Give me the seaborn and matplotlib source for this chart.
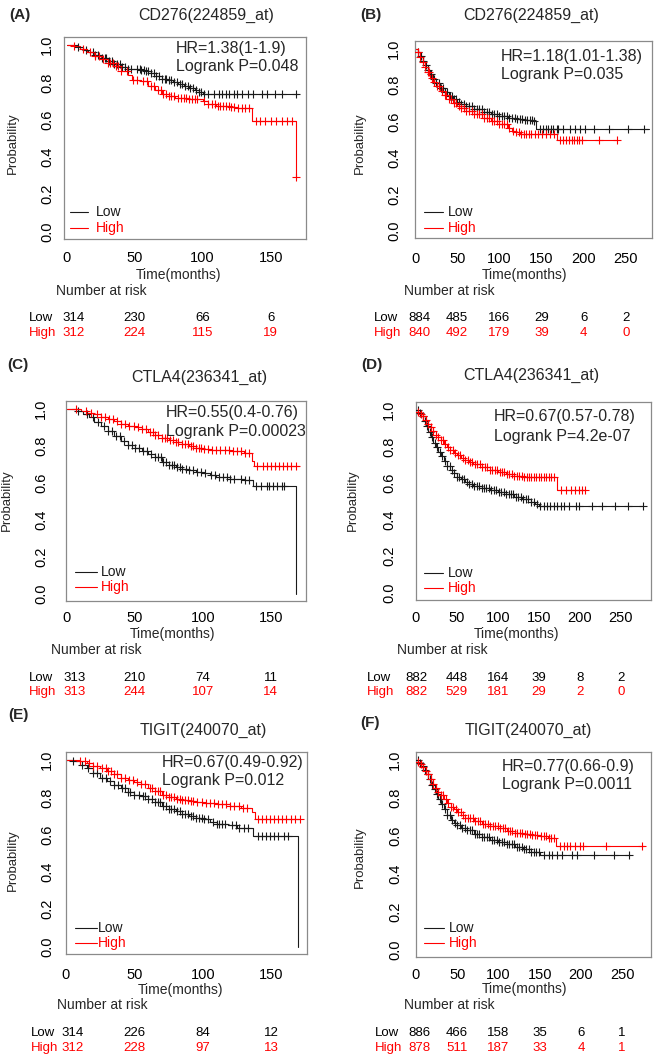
import numpy as np
import pandas as pd
import matplotlib
matplotlib.use("Agg")
import matplotlib.pyplot as plt
import seaborn as sns
from matplotlib import transforms
from matplotlib.lines import Line2D

sns.set_theme(style="white")
plt.rcParams["font.family"] = ["Liberation Sans", "DejaVu Sans"]

W, H = 661, 1057

# ---------------- data ----------------
titles = ["CD276(224859_at)", "CD276(224859_at)", "CTLA4(236341_at)",
          "CTLA4(236341_at)", "TIGIT(240070_at)", "TIGIT(240070_at)"]
letters = ["(A)", "(B)", "(C)", "(D)", "(E)", "(F)"]
hr_texts = ["HR=1.38(1-1.9)", "HR=1.18(1.01-1.38)", "HR=0.55(0.4-0.76)",
            "HR=0.67(0.57-0.78)", "HR=0.67(0.49-0.92)", "HR=0.77(0.66-0.9)"]
p_texts = ["Logrank P=0.048", "Logrank P=0.035", "Logrank P=0.00023",
           "Logrank P=4.2e-07", "Logrank P=0.012", "Logrank P=0.0011"]

ticks_short = [0, 50, 100, 150]
ticks_long = [0, 50, 100, 150, 200, 250]

# Panel A
A_low_t = [0, 8, 12, 16, 20, 25, 30, 35, 40, 45, 55, 58, 62, 66, 70, 74, 78, 82, 86, 90, 94, 97, 100, 170]
A_low_s = [1.0, 0.99, 0.975, 0.96, 0.945, 0.93, 0.912, 0.896, 0.883, 0.872, 0.866, 0.86, 0.85, 0.835, 0.82, 0.81, 0.80, 0.79, 0.78, 0.77, 0.758, 0.75, 0.739, 0.739]
A_high_t = [0, 5, 10, 15, 20, 25, 30, 35, 40, 45, 48, 55, 60, 65, 70, 75, 80, 90, 100, 104, 110, 120, 125, 136.5, 168.5, 169]
A_high_s = [1.0, 0.995, 0.98, 0.96, 0.94, 0.925, 0.905, 0.885, 0.86, 0.84, 0.815, 0.805, 0.78, 0.76, 0.74, 0.728, 0.718, 0.708, 0.70, 0.685, 0.675, 0.67, 0.66, 0.594, 0.295, 0.295]
A_low_c = [8, 14, 19, 21, 23, 26, 28, 29, 31, 33, 35, 37, 39, 41, 43, 45, 47, 52, 54, 55, 57, 58, 60, 62, 64, 66, 68, 70,
           72, 73, 75, 77, 79, 81, 83, 85, 87, 89, 91, 93, 95, 97, 99, 101, 104, 108, 112, 114, 117, 119, 123,
           125, 129, 133, 137, 144, 147, 153, 158, 169]
A_high_c = [5, 12, 17, 21, 24, 27, 30, 32, 34, 36, 38, 40, 44, 49, 52, 56, 59, 62, 64, 67, 69, 71, 73, 75, 77, 79,
            82, 84, 86, 88, 90, 92, 94, 96, 101, 104, 107, 109, 111, 113, 115, 117, 119, 121, 123, 126, 129,
            131, 134, 139, 142, 146, 150, 154, 158, 162, 166, 169]

# Panel B
B_low_t = [0, 3, 6, 9, 12, 15, 18, 21, 25, 30, 35, 40, 45, 50, 55, 60, 70, 80, 90, 100, 110, 120, 130, 140, 143, 277]
B_low_s = [1.0, 0.985, 0.96, 0.935, 0.91, 0.885, 0.86, 0.835, 0.81, 0.785, 0.762, 0.742, 0.725, 0.71, 0.698, 0.688, 0.668, 0.652, 0.64, 0.63, 0.62, 0.613, 0.608, 0.604, 0.557, 0.557]
B_high_t = [0, 3, 6, 9, 12, 15, 18, 21, 25, 30, 35, 40, 45, 50, 55, 60, 70, 80, 90, 100, 110, 115, 120, 125, 168, 240]
B_high_s = [1.0, 0.98, 0.955, 0.93, 0.9, 0.87, 0.84, 0.815, 0.795, 0.768, 0.745, 0.722, 0.70, 0.685, 0.672, 0.66, 0.64, 0.622, 0.605, 0.585, 0.565, 0.548, 0.54, 0.53, 0.50, 0.50]
B_low_c = [4, 7, 10, 13, 16, 19, 22, 25, 28, 31, 33, 36, 38, 41, 44, 46, 49, 52, 55, 58, 61, 64, 67, 70, 73, 76,
           79, 82, 85, 88, 91, 94, 97, 100, 103, 106, 109, 112, 115, 118, 121, 124, 127, 130, 133, 136, 139,
           141, 148, 152, 155, 158, 161, 164, 168, 170, 176, 184, 190, 196, 202, 212, 230, 253, 271]
B_high_c = [3, 6, 9, 12, 15, 17, 20, 23, 26, 29, 32, 35, 37, 40, 43, 46, 49, 52, 55, 58, 61, 64, 67, 70, 73, 76,
            79, 82, 85, 88, 91, 94, 97, 100, 103, 106, 109, 112, 116, 120, 123, 126, 129, 132, 135, 138, 142,
            146, 150, 155, 160, 165, 172, 176, 179, 182, 186, 189, 192, 195, 198, 218, 240]

# Panel C
C_low_t = [0, 8, 12, 16, 20, 25, 30, 35, 40, 45, 50, 55, 60, 65, 70, 75, 80, 85, 90, 95, 100, 105, 110, 120, 130, 137, 169]
C_low_s = [1.0, 0.99, 0.975, 0.955, 0.93, 0.905, 0.88, 0.855, 0.828, 0.805, 0.786, 0.772, 0.758, 0.74, 0.715, 0.697, 0.684, 0.674, 0.668, 0.66, 0.652, 0.642, 0.63, 0.622, 0.615, 0.582, 0.0]
C_high_t = [0, 10, 15, 20, 25, 30, 35, 40, 45, 50, 55, 60, 65, 70, 75, 80, 85, 90, 95, 100, 105, 110, 120, 130, 136, 138, 171]
C_high_s = [1.0, 0.99, 0.98, 0.97, 0.958, 0.945, 0.935, 0.92, 0.908, 0.9, 0.89, 0.876, 0.86, 0.842, 0.832, 0.822, 0.812, 0.8, 0.79, 0.785, 0.78, 0.775, 0.77, 0.762, 0.72, 0.69, 0.69]
C_low_c = [8, 15, 19, 23, 27, 30, 33, 36, 39, 42, 45, 48, 50, 53, 56, 59, 62, 65, 67, 69, 71, 73, 75, 77, 79, 81,
           83, 85, 88, 90, 93, 96, 99, 102, 106, 109, 112, 115, 118, 120, 123, 128, 131, 134, 139, 143, 147,
           149, 152, 155, 158, 160]
C_high_c = [7, 14, 18, 22, 25, 28, 31, 34, 37, 40, 43, 46, 49, 52, 55, 58, 61, 63, 65, 67, 70, 72, 74, 76, 78, 80,
            82, 85, 87, 89, 91, 93, 95, 97, 99, 101, 104, 107, 110, 113, 116, 119, 122, 125, 128, 131, 134,
            140, 144, 147, 150, 153, 156, 159, 162, 165, 169]

# Panel D
D_low_t = [0, 3, 6, 9, 12, 15, 18, 21, 24, 27, 30, 34, 38, 42, 46, 50, 55, 60, 65, 70, 80, 90, 100, 110, 120, 130, 140, 145, 150, 277]
D_low_s = [1.0, 0.985, 0.965, 0.94, 0.91, 0.88, 0.85, 0.82, 0.795, 0.77, 0.75, 0.72, 0.695, 0.672, 0.652, 0.635, 0.62, 0.605, 0.595, 0.585, 0.572, 0.56, 0.55, 0.538, 0.525, 0.51, 0.495, 0.485, 0.473, 0.473]
D_high_t = [0, 3, 6, 9, 12, 15, 18, 21, 24, 27, 30, 34, 38, 42, 46, 50, 55, 60, 65, 70, 80, 90, 100, 110, 120, 130, 172, 207]
D_high_s = [1.0, 0.99, 0.98, 0.965, 0.945, 0.925, 0.905, 0.885, 0.865, 0.85, 0.835, 0.815, 0.795, 0.78, 0.765, 0.752, 0.738, 0.725, 0.714, 0.705, 0.685, 0.67, 0.66, 0.648, 0.638, 0.632, 0.562, 0.562]
D_low_c = [2, 5, 8, 11, 14, 17, 20, 23, 26, 29, 32, 35, 38, 41, 44, 47, 50, 53, 56, 59, 62, 65, 68, 71, 74, 77,
           80, 83, 86, 89, 92, 95, 98, 101, 104, 107, 110, 113, 116, 119, 122, 125, 128, 131, 134, 137, 140,
           144, 148, 152, 156, 160, 164, 168, 172, 177, 181, 187, 195, 199, 215, 227, 243, 259, 277]
D_high_c = [3, 6, 9, 12, 15, 18, 21, 24, 27, 30, 33, 36, 39, 42, 45, 48, 51, 54, 57, 60, 63, 66, 69, 72, 75, 78,
            81, 84, 87, 90, 93, 96, 99, 102, 105, 108, 111, 114, 117, 120, 123, 126, 129, 132, 135, 138, 141,
            144, 147, 150, 153, 156, 159, 162, 165, 168, 177, 183, 189, 194, 199, 203, 207]

# Panel E
E_low_t = [0, 5, 10, 15, 20, 25, 30, 35, 40, 45, 50, 55, 60, 65, 70, 75, 80, 85, 90, 95, 100, 105, 110, 118, 125, 136.5, 169.5]
E_low_s = [1.0, 0.995, 0.975, 0.955, 0.93, 0.905, 0.885, 0.865, 0.848, 0.83, 0.815, 0.805, 0.79, 0.775, 0.755, 0.738, 0.725, 0.712, 0.702, 0.69, 0.682, 0.67, 0.658, 0.65, 0.638, 0.592, 0.0]
E_high_t = [0, 10, 15, 20, 25, 30, 35, 40, 45, 50, 55, 60, 65, 70, 75, 80, 85, 90, 95, 100, 110, 120, 128, 136, 138, 171]
E_high_s = [1.0, 0.995, 0.985, 0.97, 0.955, 0.942, 0.925, 0.905, 0.892, 0.882, 0.87, 0.852, 0.835, 0.815, 0.8, 0.792, 0.787, 0.782, 0.776, 0.772, 0.765, 0.755, 0.745, 0.72, 0.686, 0.686]
E_low_c = [5, 12, 16, 20, 23, 26, 29, 32, 35, 38, 41, 43, 45, 47, 50, 53, 56, 58, 60, 63, 65, 67, 69, 71, 73, 75,
           77, 79, 81, 83, 85, 87, 89, 91, 93, 95, 97, 99, 101, 104, 107, 110, 112, 114, 116, 121, 124, 126,
           130, 133, 140, 143, 146, 149, 152, 155, 159, 162]
E_high_c = [10, 14, 17, 20, 23, 26, 29, 31, 33, 35, 37, 40, 43, 46, 49, 52, 55, 58, 61, 63, 65, 67, 69, 71, 73,
            75, 77, 79, 81, 83, 85, 87, 89, 91, 93, 96, 99, 102, 105, 108, 111, 114, 117, 120, 123, 126, 129,
            132, 140, 143, 146, 149, 152, 155, 158, 161, 164, 167, 171]

# Panel F
F_low_t = [0, 3, 6, 9, 12, 15, 18, 21, 24, 27, 30, 34, 38, 42, 46, 50, 55, 60, 70, 80, 90, 100, 110, 120, 130, 140, 150, 260]
F_low_s = [1.0, 0.985, 0.97, 0.95, 0.925, 0.9, 0.87, 0.845, 0.82, 0.795, 0.77, 0.74, 0.71, 0.685, 0.668, 0.655, 0.642, 0.63, 0.612, 0.595, 0.58, 0.568, 0.556, 0.542, 0.528, 0.515, 0.497, 0.497]
F_high_t = [0, 3, 6, 9, 12, 15, 18, 21, 24, 27, 30, 34, 38, 42, 46, 50, 55, 60, 70, 80, 90, 100, 110, 120, 130, 140, 150, 160, 170, 277]
F_high_s = [1.0, 0.99, 0.98, 0.965, 0.945, 0.925, 0.9, 0.875, 0.852, 0.832, 0.815, 0.795, 0.775, 0.755, 0.74, 0.728, 0.712, 0.695, 0.678, 0.664, 0.652, 0.64, 0.628, 0.616, 0.608, 0.603, 0.597, 0.59, 0.545, 0.545]
F_low_c = [2, 5, 8, 11, 14, 17, 20, 23, 26, 29, 32, 35, 38, 41, 44, 47, 50, 53, 56, 59, 62, 65, 68, 71, 74, 77,
           80, 83, 86, 89, 92, 95, 98, 101, 104, 107, 110, 113, 116, 119, 122, 125, 128, 131, 134, 137, 140,
           143, 146, 149, 155, 161, 165, 171, 177, 189, 195, 216, 240, 258]
F_high_c = [3, 6, 9, 12, 15, 18, 21, 24, 27, 30, 33, 36, 39, 42, 45, 48, 51, 54, 57, 60, 63, 66, 69, 72, 75, 78,
            81, 84, 87, 90, 93, 96, 99, 102, 105, 108, 111, 114, 117, 120, 123, 126, 129, 132, 135, 138, 141,
            144, 147, 152, 155, 158, 161, 164, 167, 175, 179, 183, 187, 193, 199, 203, 230, 274]

# Numbers at risk
risk_low = [[314, 230, 66, 6], [884, 485, 166, 29, 6, 2], [313, 210, 74, 11],
            [882, 448, 164, 39, 8, 2], [314, 226, 84, 12], [886, 466, 158, 35, 6, 1]]
risk_high = [[312, 224, 115, 19], [840, 492, 179, 39, 4, 0], [313, 244, 107, 14],
             [882, 529, 181, 29, 2, 0], [312, 228, 97, 13], [878, 511, 187, 33, 4, 1]]

curves = [
    (A_low_t, A_low_s, A_low_c, A_high_t, A_high_s, A_high_c),
    (B_low_t, B_low_s, B_low_c, B_high_t, B_high_s, B_high_c),
    (C_low_t, C_low_s, C_low_c, C_high_t, C_high_s, C_high_c),
    (D_low_t, D_low_s, D_low_c, D_high_t, D_high_s, D_high_c),
    (E_low_t, E_low_s, E_low_c, E_high_t, E_high_s, E_high_c),
    (F_low_t, F_low_s, F_low_c, F_high_t, F_high_s, F_high_c),
]

# ---------------- layout (pixels) ----------------
layout = [
    dict(box=(64, 306, 37, 239), xlim=(-2, 176), ticks=ticks_short, letter=(9, 15), title=(206, 15),
         hr=(176, 48, 66), leg=(70, 88, 96, 212, 228), xlab=(179, 275), ylab=(13, 143), nar=(56, 291),
         risk=(29, 318, 333), xd=18, yd=16, off0=7),
    dict(box=(415, 652, 41, 238), xlim=(0, 281), ticks=ticks_long, letter=(360, 15), title=(531, 15),
         hr=(501, 57, 75), leg=(424, 443, 448, 212, 228), xlab=(525, 275), ylab=(360, 143), nar=(404, 291),
         risk=(374, 318, 333), xd=20, yd=20, off0=4),
    dict(box=(66, 306, 401, 601), xlim=(-0.7, 176), ticks=ticks_short, letter=(7, 365), title=(199, 377),
         hr=(166, 413, 432), leg=(75, 97, 101, 572, 587), xlab=(172, 634), ylab=(7, 500), nar=(51, 650),
         risk=(29, 678, 692), xd=16, yd=24, off0=8),
    dict(box=(416, 651, 402, 600), xlim=(3, 287), ticks=ticks_long, letter=(361, 365), title=(531, 375),
         hr=(494, 417, 436), leg=(424, 443, 448, 573, 588), xlab=(517, 634), ylab=(353, 500), nar=(397, 650),
         risk=(367, 678, 692), xd=17, yd=26, off0=0),
    dict(box=(66, 307, 752, 954), xlim=(0, 176), ticks=ticks_short, letter=(8, 715), title=(203, 730),
         hr=(162, 763, 781), leg=(75, 97, 98, 928, 943), xlab=(180, 990), ylab=(13, 860), nar=(57, 1005),
         risk=(31, 1033, 1048), xd=20, yd=18, off0=7),
    dict(box=(416, 651, 752, 957), xlim=(0, 285), ticks=ticks_long, letter=(360, 723), title=(528, 730),
         hr=(502, 767, 785), leg=(424, 444, 449, 928, 943), xlab=(525, 989), ylab=(360, 857), nar=(404, 1005),
         risk=(375, 1033, 1048), xd=17, yd=20, off0=3),
]

BLACK = "#1a1a1a"
RED = "#ff0000"
FRAME = "#8a8a8a"

fig = plt.figure(figsize=(W / 100, H / 100), dpi=100)
fig.patch.set_facecolor("white")


def fx(x):
    return x / W


def fy(y):
    return 1 - y / H


def step_at(ts, ss, tc):
    ts = np.asarray(ts, float)
    ss = np.asarray(ss, float)
    idx = np.searchsorted(ts, np.asarray(tc, float), side="right") - 1
    idx = np.clip(idx, 0, len(ss) - 1)
    return ss[idx]


for i, L in enumerate(layout):
    l, r, t, b = L["box"]
    ax = fig.add_axes([fx(l), fy(b), (r - l) / W, (b - t) / H])
    lt, ls, lc, ht, hs, hc = curves[i]

    for (ts, ss, cs, col, grp) in [(lt, ls, lc, BLACK, "Low"), (ht, hs, hc, RED, "High")]:
        df = pd.DataFrame({"time": ts, "surv": ss})
        sns.lineplot(data=df, x="time", y="surv", ax=ax, color=col, lw=0.8,
                     drawstyle="steps-post", estimator=None, sort=False, legend=False)
        dc = pd.DataFrame({"time": cs, "surv": step_at(ts, ss, cs)})
        sns.scatterplot(data=dc, x="time", y="surv", ax=ax, marker="+", s=30,
                        color=col, linewidth=0.8, legend=False, zorder=3)

    ax.set_xlim(*L["xlim"])
    ax.set_ylim(-0.04, 1.043)
    ax.set_xticks(L["ticks"])
    ax.set_xticklabels([str(v) for v in L["ticks"]], fontsize=10.5)
    yt = [0.0, 0.2, 0.4, 0.6, 0.8, 1.0]
    ax.set_yticks(yt)
    ax.set_yticklabels([f"{v:.1f}" for v in yt], fontsize=10.5, rotation=90, va="center")
    ax.set_xlabel("")
    ax.set_ylabel("")
    for sp in ax.spines.values():
        sp.set_color(FRAME)
        sp.set_linewidth(0.9)
        sp.set_visible(True)
    ax.tick_params(axis="both", direction="out", length=3.6, width=0.8, color=FRAME,
                   labelcolor="black")
    ax.tick_params(axis="x", pad=max(L["xd"] - 11, 1) * 0.72)
    ax.tick_params(axis="y", pad=max(L["yd"] - 11, 1) * 0.72)
    ax.set_facecolor("white")

    # texts
    fig.text(fx(L["letter"][0]), fy(L["letter"][1]), letters[i], fontsize=11, fontweight="bold",
             ha="left", va="center")
    fig.text(fx(L["title"][0]), fy(L["title"][1]), titles[i], fontsize=11.5, ha="center", va="center")
    fig.text(fx(L["hr"][0]), fy(L["hr"][1]), hr_texts[i], fontsize=11.5, ha="left", va="center")
    fig.text(fx(L["hr"][0]), fy(L["hr"][2]), p_texts[i], fontsize=11.5, ha="left", va="center")
    fig.text(fx(L["xlab"][0]), fy(L["xlab"][1]), "Time(months)", fontsize=10, ha="center", va="center")
    fig.text(fx(L["ylab"][0]), fy(L["ylab"][1]), "Probability", fontsize=9.5, ha="center", va="center",
             rotation=90)
    fig.text(fx(L["nar"][0]), fy(L["nar"][1]), "Number at risk", fontsize=10, ha="left", va="center")

    # legend
    x0, x1, xt, yl, yh = L["leg"]
    for yy, col, lab in [(yl, BLACK, "Low"), (yh, RED, "High")]:
        fig.add_artist(Line2D([fx(x0), fx(x1)], [fy(yy), fy(yy)], color=col, lw=0.8,
                              transform=fig.transFigure))
        fig.text(fx(xt), fy(yy), lab, fontsize=10, color=col, ha="left", va="center")

    # number at risk table
    rx, ry_low, ry_high = L["risk"]
    fig.text(fx(rx), fy(ry_low), "Low", fontsize=9.5, color="black", ha="left", va="center")
    fig.text(fx(rx), fy(ry_high), "High", fontsize=9.5, color=RED, ha="left", va="center")
    trans = transforms.blended_transform_factory(ax.transData, fig.transFigure)
    for k, (tk, nl, nh) in enumerate(zip(L["ticks"], risk_low[i], risk_high[i])):
        tr = trans
        if k == 0:
            tr = trans + transforms.ScaledTranslation(L["off0"] / 100, 0, fig.dpi_scale_trans)
        ax.text(tk, fy(ry_low), str(nl), fontsize=9.5, color="black", ha="center", va="center",
                transform=tr, clip_on=False)
        ax.text(tk, fy(ry_high), str(nh), fontsize=9.5, color=RED, ha="center", va="center",
                transform=tr, clip_on=False)

fig.savefig("out.png", dpi=100, facecolor="white")
